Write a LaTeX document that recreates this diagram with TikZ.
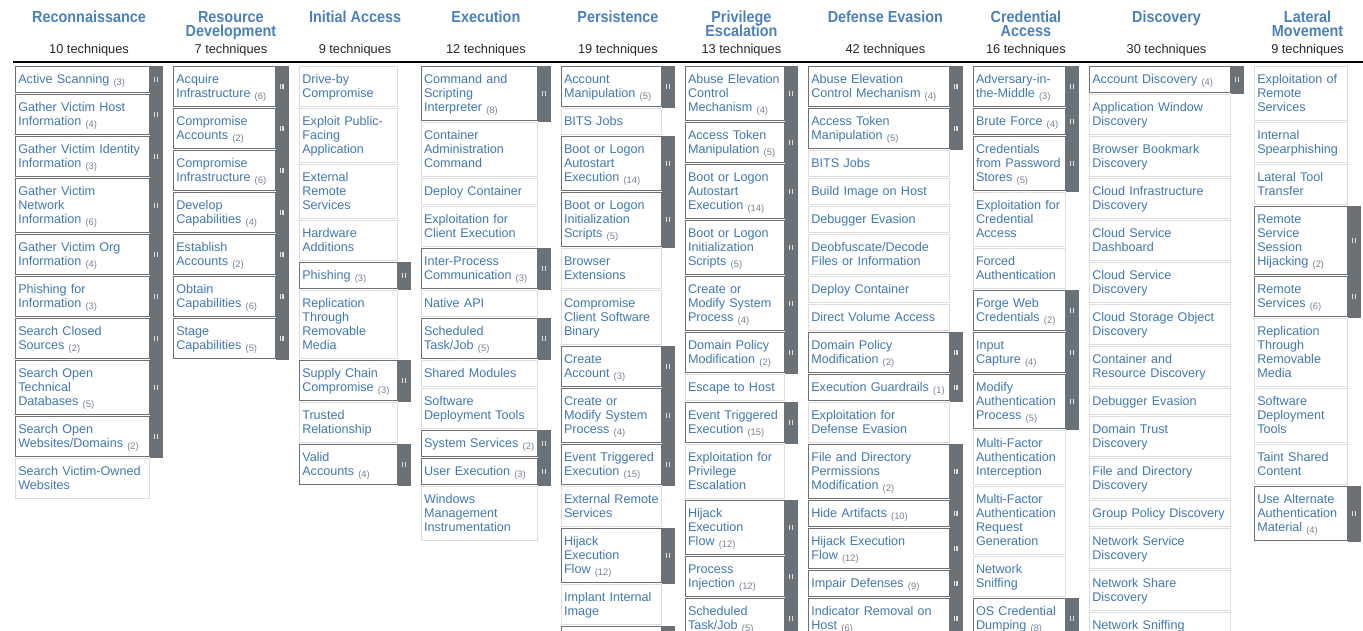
\documentclass[tikz,border=0pt]{standalone}
\usepackage{fontspec}
\setmainfont{Liberation Sans}
\newfontfamily\headfont{Liberation Sans}[FakeStretch=0.9]
\usetikzlibrary{positioning}

\definecolor{techblue}{RGB}{65,120,180}
\definecolor{headblue}{RGB}{74,128,190}
\definecolor{countgrey}{RGB}{120,130,145}
\definecolor{boxgrey}{RGB}{221,221,221}
\definecolor{barcol}{RGB}{106,114,120}
\definecolor{gripcol}{RGB}{225,225,225}

\newcommand\techstrut{\rule[-2.8pt]{0pt}{14pt}}
\newcommand\headstrut{\rule{0pt}{12pt}}
\newcommand\subcount[1]{{\fontsize{9.4pt}{10pt}\selectfont\color{countgrey}\smash{\raisebox{-2pt}{(#1)}}}}

% #1 id, #2 left edge, #3 box width, #4 tactic, #5 techniques, #6 cells
\newcommand\tacticcolumn[6]{%
    \pgfmathsetmacro\tw{#3-6}%
    \pgfmathsetmacro\cx{#2+(#3+12.5)/2}%
    \node[tactic] (t#1) at (\cx,10.7) {\headstrut#4};
    \node[ntech] (n#1) at (\cx,54) {#5 techniques};
    \node[inner sep=0pt, outer sep=0pt] (c#1-0) at ({#2+#3/2},64.3) {};
    \foreach \tname/\nsub [count=\row, remember=\row as \prev (initially 0)] in {#6} {
        \ifnum\nsub>0
            \node[subtech, text width=\tw pt, below=1pt of c#1-\prev] (c#1-\row)
                {\techstrut\tname\ \subcount{\nsub}\techstrut};
            \fill[bar] (c#1-\row.north east) rectangle ([xshift=12.5pt,yshift=-1pt]c#1-\row.south east);
            \draw[grip] ([xshift=4.4pt,yshift=2.5pt]c#1-\row.east) -- ++(0,5);
            \draw[grip] ([xshift=7pt,yshift=2.5pt]c#1-\row.east) -- ++(0,5);
        \else
            \node[tech, text width=\tw pt, below=1pt of c#1-\prev] (c#1-\row)
                {\techstrut\tname\techstrut};
        \fi
    }%
}

\begin{document}
\begin{tikzpicture}[x=1pt,y=-1pt,
    tech/.style={draw=boxgrey, line width=1pt, fill=white, text=techblue,
        font={\fontsize{12.6pt}{14pt}\selectfont}, align=left,
        inner xsep=2.5pt, inner ysep=6pt},
    subtech/.style={tech, draw=barcol},
    bar/.style={fill=barcol},
    grip/.style={draw=gripcol, line width=1.3pt},
    tactic/.style={text=headblue, align=center, inner sep=0pt, anchor=north,
        font={\headfont\bfseries\fontsize{16pt}{13.4pt}\selectfont\lineskiplimit=-20pt}},
    ntech/.style={text=black!85, inner sep=0pt, anchor=base,
        font={\fontsize{12.8pt}{14pt}\selectfont}}]
    \useasboundingbox (0,0) rectangle (1363,631);
    \clip (0,0) rectangle (1363,631);
    \draw[line width=1.3pt] (13.3,62) -- (1363,62);
    \tacticcolumn{1}{15.3}{135}{Reconnaissance}{10}{
        Active Scanning/3, Gather Victim Host\\Information/4,
        Gather Victim Identity\\Information/3, Gather Victim\\Network\\Information/6,
        Gather Victim Org\\Information/4, Phishing for\\Information/3,
        Search Closed\\Sources/2, Search Open\\Technical\\Databases/5,
        Search Open\\Websites\slash Domains/2, Search Victim-Owned\\Websites/0}
    \tacticcolumn{2}{173.3}{102.7}{Resource\\Development}{7}{
        Acquire\\Infrastructure/6, Compromise\\Accounts/2,
        Compromise\\Infrastructure/6, Develop\\Capabilities/4,
        Establish\\Accounts/2, Obtain\\Capabilities/6, Stage\\Capabilities/5}
    \tacticcolumn{3}{299.3}{99}{Initial Access}{9}{
        Drive-by\\Compromise/0, Exploit Public-\\Facing\\Application/0,
        External\\Remote\\Services/0, Hardware\\Additions/0, Phishing/3,
        Replication\\Through\\Removable\\Media/0, Supply Chain\\Compromise/3,
        Trusted\\Relationship/0, Valid\\Accounts/4}
    \tacticcolumn{4}{421}{117.3}{Execution}{12}{
        Command and\\Scripting\\Interpreter/8, Container\\Administration\\Command/0,
        Deploy Container/0, Exploitation for\\Client Execution/0,
        Inter-Process\\Communication/3, Native API/0, Scheduled\\Task\slash Job/5,
        Shared Modules/0, Software\\Deployment Tools/0, System Services/2,
        User Execution/3, Windows\\Management\\Instrumentation/0}
    \tacticcolumn{5}{561}{101.3}{Persistence}{19}{
        Account\\Manipulation/5, BITS Jobs/0,
        Boot or Logon\\Autostart\\Execution/14, Boot or Logon\\Initialization\\Scripts/5,
        Browser\\Extensions/0, Compromise\\Client Software\\Binary/0,
        Create\\Account/3, Create or\\Modify System\\Process/4,
        Event Triggered\\Execution/15, External Remote\\Services/0,
        Hijack\\Execution\\Flow/12, Implant Internal\\Image/0}
    % next cell runs off the bottom edge
    \node[subtech, text width=95.3pt, below=1pt of c5-12] (c5-13) {\techstrut};
    \fill[bar] (c5-13.north east) rectangle ([xshift=12.5pt]c5-13.south east);
    \tacticcolumn{6}{685}{100.3}{Privilege\\Escalation}{13}{
        Abuse Elevation\\Control\\Mechanism/4, Access Token\\Manipulation/5,
        Boot or Logon\\Autostart\\Execution/14, Boot or Logon\\Initialization\\Scripts/5,
        Create or\\Modify System\\Process/4, Domain Policy\\Modification/2,
        Escape to Host/0, Event Triggered\\Execution/15,
        Exploitation for\\Privilege\\Escalation/0, Hijack\\Execution\\Flow/12,
        Process\\Injection/12, Scheduled\\Task\slash Job/5}
    \tacticcolumn{7}{808.3}{141.7}{Defense Evasion}{42}{
        Abuse Elevation\\Control Mechanism/4, Access Token\\Manipulation/5,
        BITS Jobs/0, Build Image on Host/0, Debugger Evasion/0,
        Deobfuscate\slash Decode\\Files or Information/0, Deploy Container/0,
        Direct Volume Access/0, Domain Policy\\Modification/2,
        Execution Guardrails/1, Exploitation for\\Defense Evasion/0,
        File and Directory\\Permissions\\Modification/2, Hide Artifacts/10,
        Hijack Execution\\Flow/12, Impair Defenses/9, Indicator Removal on\\Host/6}
    \tacticcolumn{8}{973}{93.3}{Credential\\Access}{16}{
        Adversary-in-\\the-Middle/3, Brute Force/4,
        Credentials\\from Password\\Stores/5, Exploitation for\\Credential\\Access/0,
        Forced\\Authentication/0, Forge Web\\Credentials/2, Input\\Capture/4,
        Modify\\Authentication\\Process/5, Multi-Factor\\Authentication\\Interception/0,
        Multi-Factor\\Authentication\\Request\\Generation/0, Network\\Sniffing/0,
        OS Credential\\Dumping/8}
    \tacticcolumn{9}{1089.3}{142}{Discovery}{30}{
        Account Discovery/4, Application Window\\Discovery/0,
        Browser Bookmark\\Discovery/0, Cloud Infrastructure\\Discovery/0,
        Cloud Service\\Dashboard/0, Cloud Service\\Discovery/0,
        Cloud Storage Object\\Discovery/0, Container and\\Resource Discovery/0,
        Debugger Evasion/0, Domain Trust\\Discovery/0, File and Directory\\Discovery/0,
        Group Policy Discovery/0, Network Service\\Discovery/0,
        Network Share\\Discovery/0, Network Sniffing/0}
    \tacticcolumn{10}{1254.3}{94}{Lateral\\Movement}{9}{
        Exploitation of\\Remote\\Services/0, Internal\\Spearphishing/0,
        Lateral Tool\\Transfer/0, Remote\\Service\\Session\\Hijacking/2,
        Remote\\Services/6, Replication\\Through\\Removable\\Media/0,
        Software\\Deployment\\Tools/0, Taint Shared\\Content/0,
        Use Alternate\\Authentication\\Material/4}
\end{tikzpicture}
\end{document}
